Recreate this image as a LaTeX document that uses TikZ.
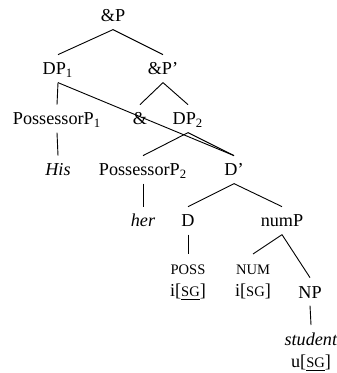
\documentclass[tikz,border=0pt]{standalone}
\usepackage{fontspec}
\setmainfont{Liberation Serif}
\usepackage{tikz}
\usetikzlibrary{positioning}

\newcommand{\smcap}[1]{{\fontsize{8}{9}\selectfont #1}}

\begin{document}
\begin{tikzpicture}[
    x=0.55pt, y=-0.55pt,
    cat/.style={font=\fontsize{10}{12}\selectfont, text height=7pt, text depth=0pt, inner xsep=1pt, inner ysep=4pt, anchor=base},
    leaf/.style={font=\fontsize{10}{12}\selectfont, align=center, inner xsep=1pt, inner ysep=4pt, anchor=north},
    branch/.style={draw=black, line width=0.5pt}
]
\useasboundingbox (0,0) rectangle (336,373);

% Root
\node (andP) at (113,22) [cat] {\&P};

% Conjuncts
\node (dpOne) at (58,75) [cat] {DP\textsubscript{1}};
\node (andPbar) at (163,75) [cat] {\&P'};

\node (possOne) at (57,125) [cat] {PossessorP\textsubscript{1}};
\node (amp) at (140,125) [cat] {\&};
\node (dpTwo) at (188,125) [cat] {DP\textsubscript{2}};

\node (his) at (58,176) [cat] {\textit{His}};
\node (possTwo) at (143,176) [cat] {PossessorP\textsubscript{2}};
\node (dBar) at (234,176) [cat] {D'};

\node (her) at (143,227) [cat] {\textit{her}};
\node (dHead) at (188,227) [cat] {D};
\node (numP) at (282,227) [cat] {numP};

% Feature leaves
\node (possFeat) at (188,254) [leaf] {\rule{0pt}{7pt}\smcap{POSS}\\ i[\underline{\smcap{SG}}]};
\node (numFeat) at (253,254) [leaf] {\rule{0pt}{7pt}\smcap{NUM}\\ i[\smcap{SG}]};
\node (np) at (310,298) [cat] {NP};
\node (student) at (311,325) [leaf] {\rule{0pt}{7pt}\textit{student}\\ u[\underline{\smcap{SG}}]};

% Branches
\draw [branch] (andP.south) -- (dpOne.north);
\draw [branch] (andP.south) -- (andPbar.north);
\draw [branch] (dpOne.south) -- (possOne.north);
\draw [branch] (dpOne.south) -- (dBar.north); % shared D'
\draw [branch] (andPbar.south) -- (amp.north);
\draw [branch] (andPbar.south) -- (dpTwo.north);
\draw [branch] (possOne.south) -- (his.north);
\draw [branch] (dpTwo.south) -- (possTwo.north);
\draw [branch] (dpTwo.south) -- (dBar.north);
\draw [branch] (possTwo.south) -- (her.north);
\draw [branch] (dBar.south) -- (dHead.north);
\draw [branch] (dBar.south) -- (numP.north);
\draw [branch] (dHead.south) -- (possFeat.north);
\draw [branch] (numP.south) -- (numFeat.north);
\draw [branch] (numP.south) -- (np.north);
\draw [branch] (np.south) -- (student.north);

\end{tikzpicture}
\end{document}
